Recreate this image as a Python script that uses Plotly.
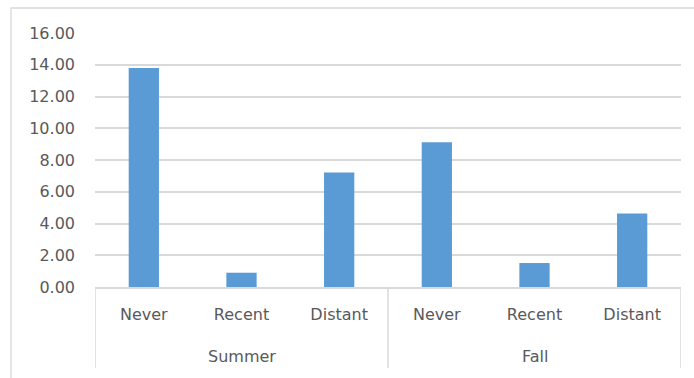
import plotly.graph_objects as go

# Season groups and exposure categories
seasons = ["Summer", "Summer", "Summer", "Fall", "Fall", "Fall"]
exposure = ["Never", "Recent", "Distant", "Never", "Recent", "Distant"]
values = [13.80, 0.90, 7.22, 9.12, 1.51, 4.63]

y_ticks = [0, 2, 4, 6, 8, 10, 12, 14, 16]
y_tick_text = [f"{v:.2f}" for v in y_ticks]

BAR = "#5B9BD5"
GRID = "#D9D9D9"
TEXT = "#595959"
FONT = "DejaVu Sans"
SIZE = 16

positions = list(range(len(values)))

fig = go.Figure(
    go.Bar(
        x=positions,
        y=values,
        marker=dict(color=BAR, line=dict(width=0)),
    )
)

fig.update_layout(
    width=694,
    height=378,
    margin=dict(l=95, r=13, t=33, b=91),
    paper_bgcolor="white",
    plot_bgcolor="white",
    bargap=0.69,
    showlegend=False,
    font=dict(family=FONT, size=SIZE, color=TEXT),
)

fig.update_yaxes(
    range=[0, 16],
    tickvals=y_ticks,
    ticktext=y_tick_text,
    showgrid=True,
    gridcolor=GRID,
    gridwidth=1.5,
    zeroline=False,
    showline=False,
    ticks="",
    ticklabelstandoff=19,
    tickfont=dict(family=FONT, size=SIZE, color=TEXT),
)

fig.update_xaxes(
    range=[-0.5, len(values) - 0.5],
    tickvals=positions,
    ticktext=exposure,
    showline=True,
    linecolor=GRID,
    linewidth=1.5,
    ticks="",
    ticklabelstandoff=12,
    tickfont=dict(family=FONT, size=SIZE, color=TEXT),
    showgrid=False,
    zeroline=False,
)

# Season group labels centred under their categories
group_names = list(dict.fromkeys(seasons))
for name in group_names:
    idx = [i for i, s in enumerate(seasons) if s == name]
    fig.add_annotation(
        x=sum(idx) / len(idx), xref="x",
        y=-0.2717, yref="paper", yanchor="middle",
        text=name, showarrow=False,
        font=dict(family=FONT, size=SIZE, color=TEXT),
    )

# Axis box lines below the plot: outer edges and the divider between seasons
bounds = [-0.5] + [i + 0.5 for i in range(len(seasons) - 1) if seasons[i] != seasons[i + 1]] + [len(seasons) - 0.5]
for xb in bounds:
    fig.add_shape(
        type="line", xref="x", yref="paper",
        x0=xb, x1=xb, y0=0, y1=-0.319,
        line=dict(color=GRID, width=1.5),
    )

# Chart frame
fig.add_shape(
    type="rect", xref="paper", yref="paper",
    x0=-0.1433, x1=1.06, y0=1.0984, y1=-0.42,
    line=dict(color=GRID, width=1.3),
    layer="below",
)

fig.write_html("out.html")
